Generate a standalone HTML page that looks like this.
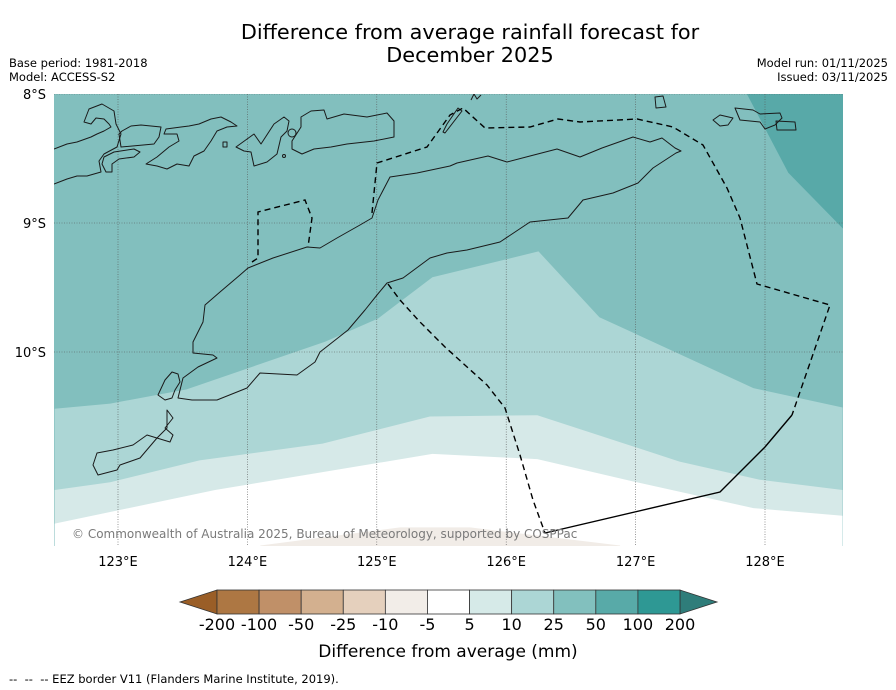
<!DOCTYPE html>
<html><head><meta charset="utf-8">
<style>
body{margin:0;background:#fff;width:896px;height:690px;overflow:hidden;font-family:"Liberation Sans","DejaVu Sans",sans-serif;}
svg{position:absolute;left:0;top:0}
text{font-family:"DejaVu Sans","Liberation Sans",sans-serif}
</style></head>
<body>
<svg id="chart" width="896" height="690" viewBox="0 0 896 690">
  <text x="470" y="39" font-size="20.8" text-anchor="middle">Difference from average rainfall forecast for</text>
  <text x="470" y="62" font-size="20.8" text-anchor="middle">December 2025</text>
  <text x="9" y="67" font-size="11.5">Base period: 1981-2018</text>
  <text x="9" y="81" font-size="11.5">Model: ACCESS-S2</text>
  <text x="888" y="67" font-size="11.5" text-anchor="end">Model run: 01/11/2025</text>
  <text x="888" y="81" font-size="11.5" text-anchor="end">Issued: 03/11/2025</text>
  <defs><clipPath id="mapclip"><rect x="54" y="94" width="789" height="452"/></clipPath></defs>
  <g id="map" clip-path="url(#mapclip)">
    <rect x="54" y="94" width="789" height="452" fill="#82bfbe"/>
    <g id="contours"></g>
    <g id="grid"></g>
    <g fill="none" stroke="#1a1a1a" stroke-width="1" stroke-linejoin="round">
      <path d="M54,149 L67,144 77,142 91,137 97,134 104,131 111,127 109,124 104,119 96,118 91,124 84,122 89,109 102,104 114,111 116,124 121,134 117,147 104,154 99,161 101,172 87,176 77,176 67,179 54,184"/>
      <path d="M119,134 L121,147 154,144 159,137 161,127 151,126 141,125 131,126 122,131 Z"/>
      <path d="M104,157 L114,152 134,149 140,152 134,157 119,159 112,164 112,172 106,172 102,164 Z"/>
      <path d="M146,164 L157,157 169,147 179,141 177,134 164,134 166,129 181,127 189,126 199,124 211,119 221,117 231,122 237,126 227,127 217,131 211,141 204,151 194,156 189,166 177,164 167,169 157,166 Z"/>
      <path d="M236,147 L254,134 261,144 274,124 284,117 289,121 287,131 281,137 277,154 267,162 254,166 251,152 244,151 Z"/>
      <path d="M292,141 L301,127 301,117 311,111 324,110 327,119 344,114 367,117 387,113 394,121 394,137 374,141 347,144 331,147 314,149 302,154 292,149 Z"/>
      <rect x="223" y="142" width="4" height="5"/>
      <circle cx="292" cy="133" r="4"/>
      <circle cx="284" cy="156" r="1.5"/>
      <path d="M248,268 L273,258 307,247 320,248 337,238 360,225 372,218 378,200 390,177 417,173 450,166 457,163 488,156 507,162 530,156 557,149 580,157 602,148 633,137 650,142 662,138 675,148 681,151 676,153 653,168 638,183 613,193 583,200 568,218 530,222 500,242 467,250 447,253 430,258 403,278 387,283 377,295 365,310 348,330 320,352 315,362 297,375 260,373 247,388 217,400 192,400 178,398 183,378 198,367 217,358 213,355 193,353 193,342 203,322 205,305 220,292 240,275 Z"/>
      <path d="M158,395 L165,380 172,372 178,374 180,382 175,390 172,398 165,400 Z"/>
      <path d="M167,410 L173,418 165,428 173,435 170,442 147,435 133,445 113,450 97,453 93,465 98,475 117,470 120,465 140,458 157,438 167,428 Z"/>
      <path d="M445,133 L462,111 458,108 447,124 443,132 Z"/>
      <path d="M471,100 L474,94 477,99 481,95"/>
      <path d="M655,97 L663,96 666,107 656,108 Z"/>
      <path d="M713,120 L720,115 733,118 728,125 720,126 Z"/>
      <path d="M735,108 L753,110 760,114 780,113 782,118 775,125 765,129 760,122 740,120 Z"/>
      <path d="M776,121 L795,122 796,130 777,130 Z"/>
    </g>
    <g fill="none" stroke="#000" stroke-width="1.4" stroke-dasharray="6,4">
      <path d="M372,213 L377,163 427,147 450,115 463,108 485,128 530,127 558,119 580,122 637,119 673,127 703,145 727,188 740,218 757,284 830,305 792,415"/>
      <path d="M252,262 L258,258 258,212 305,200 312,218 308,247"/>
      <path d="M388,284 L400,300 420,322 445,347 487,385 505,408 520,455 533,500 545,533"/>
      <path d="M545,533 L720,492 765,447 792,415" stroke-dasharray="none"/>
    </g>
    <text x="72" y="538" font-size="12" fill="#7a7a7a">© Commonwealth of Australia 2025, Bureau of Meteorology, supported by COSPPac</text>
  </g>
  <g id="axes"></g>
  <g id="colorbar"></g>
  <text x="448" y="657" font-size="17" text-anchor="middle">Difference from average (mm)</text>
  <text x="9" y="683" font-size="11.5" xml:space="preserve">--  --  -- EEZ border V11 (Flanders Marine Institute, 2019).</text>
</svg>
<script>
// ---- data ----
const lonTicks = [123, 124, 125, 126, 127, 128];
const latTicks = [8, 9, 10];
// contour edges in [lon, lat(°S)]
const edge25 = [[122.51,10.44],[122.94,10.40],[123.53,10.29],[124.60,9.92],[125.01,9.74],[125.43,9.42],[126.25,9.22],[126.72,9.73],[127.91,10.28],[128.60,10.43]];
const edge10 = [[122.51,11.07],[122.94,11.01],[123.63,10.84],[124.58,10.71],[125.41,10.50],[126.24,10.49],[127.34,10.85],[127.96,10.99],[128.60,11.07]];
const edge5 = [[122.51,11.33],[123.75,11.07],[125.43,10.79],[126.24,10.83],[127.01,11.01],[127.91,11.21],[128.60,11.27]];
const edgeDry = [[124.10,11.50],[125.18,11.36],[125.72,11.36],[126.88,11.50]];
const edgeWet = [[127.86,8.0],[128.18,8.61],[128.60,9.04]];
const cbLabels = ['-200','-100','-50','-25','-10','-5','5','10','25','50','100','200'];
const cbColors = ['#ad7743','#c09068','#d3b08f','#e5d0bd','#f2ede8','#ffffff','#d6eae8','#acd6d5','#82c0be','#58aaa8','#2e9894'];

// ---- scales ----
const X = lon => 118 + (lon - 123) * 129.4;
const Y = lat => 94 + (lat - 8) * 129;
const NS = 'http://www.w3.org/2000/svg';
function mk(tag, attrs, parent){const e=document.createElementNS(NS,tag);for(const k in attrs)e.setAttribute(k,attrs[k]);parent.appendChild(e);return e;}
const pts = a => a.map(p => X(p[0]).toFixed(1)+','+Y(p[1]).toFixed(1)).join(' ');

const cont = document.getElementById('contours');
function below(edge, color, name){
  const p = pts(edge) + ' ' + X(edge[edge.length-1][0]).toFixed(1)+',560 ' + X(edge[0][0]).toFixed(1)+',560';
  const el = mk('polygon',{points:p,fill:color},cont);
  
  
}
below(edge25, '#acd6d5', 'contour-10-25');
below(edge10, '#d6e9e8', 'contour-5-10');
below(edge5, '#ffffff', 'contour-neutral');
below(edgeDry, '#f1ece7', 'contour-dry');
{
  const p = pts(edgeWet) + ' ' + X(128.7).toFixed(1)+','+Y(9.04).toFixed(1)+' '+X(128.7).toFixed(1)+','+Y(7.9).toFixed(1)+' '+X(127.86).toFixed(1)+','+Y(7.9).toFixed(1);
  const el = mk('polygon',{points:p,fill:'#58a9a8'},cont);
  
  
}

// grid + axes
const grid = document.getElementById('grid'), axes = document.getElementById('axes');
lonTicks.forEach(l=>{
  const g = mk('line',{x1:X(l),x2:X(l),y1:94,y2:546,stroke:'#555','stroke-width':0.6,'stroke-dasharray':'1,1.5'},grid);
  
  
  const t = mk('text',{x:X(l),y:566,'font-size':13,'text-anchor':'middle'},axes);
  t.textContent = l + '°E';
  
  
});
latTicks.forEach(l=>{
  const g = mk('line',{x1:54,x2:843,y1:Y(l),y2:Y(l),stroke:'#555','stroke-width':0.6,'stroke-dasharray':'1,1.5'},grid);
  
  
  const t = mk('text',{x:46,y:Y(l)+5,'font-size':13,'text-anchor':'end'},axes);
  t.textContent = l + '°S';
  
  
});

// colorbar
const cb = document.getElementById('colorbar');
const cbL = 217, cbR = 680, cbT = 590, cbB = 614;
const w = (cbR - cbL) / cbColors.length;
{
  const a = mk('polygon',{points:`${cbL},${cbT} ${cbL},${cbB} 180,${(cbT+cbB)/2}`,fill:'#9a5e27',stroke:'#333','stroke-width':0.8},cb);
  
  
  const b = mk('polygon',{points:`${cbR},${cbT} ${cbR},${cbB} 717,${(cbT+cbB)/2}`,fill:'#2f7d7a',stroke:'#333','stroke-width':0.8},cb);
  
  
}
cbColors.forEach((c,i)=>{
  const r = mk('rect',{x:cbL+i*w,y:cbT,width:w,height:cbB-cbT,fill:c,stroke:'#333','stroke-width':0.8},cb);
  
  
});
cbLabels.forEach((s,i)=>{
  const t = mk('text',{x:cbL+i*w,y:630,'font-size':16,'text-anchor':'middle'},cb);
  t.textContent = s;
  
  
});
</script>
</body></html>
